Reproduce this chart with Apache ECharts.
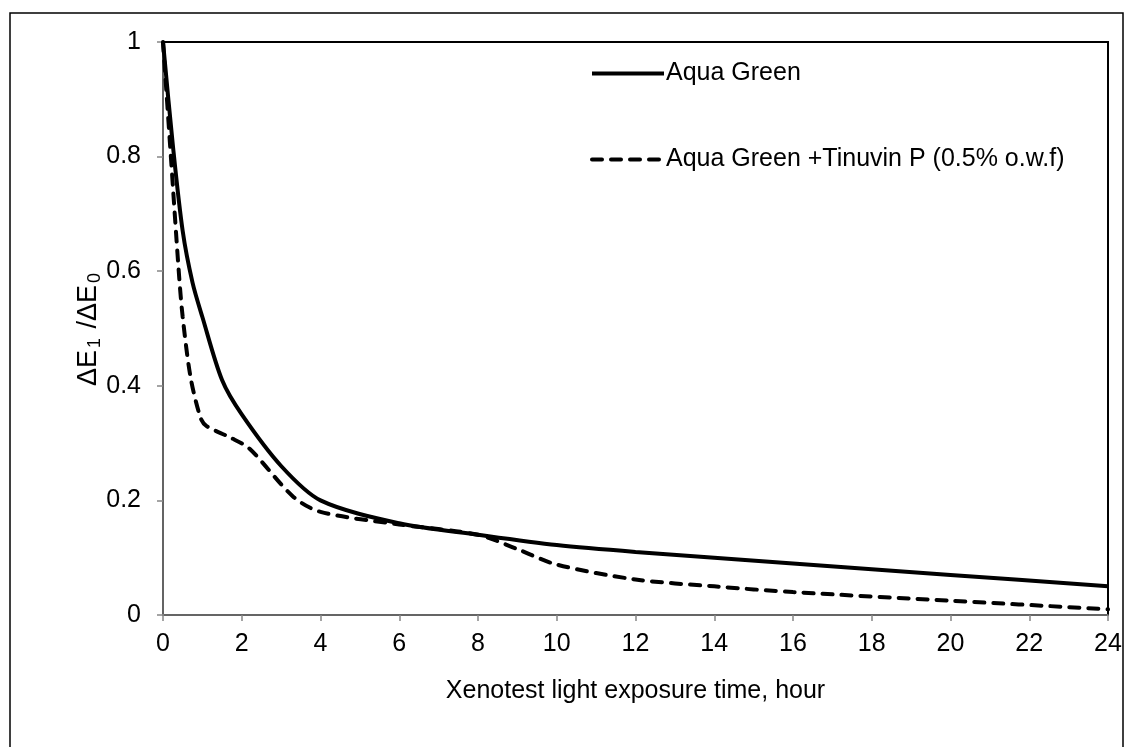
<!DOCTYPE html>
<html>
<head>
<meta charset="utf-8">
<script src="https://cdn.jsdelivr.net/npm/echarts@6/dist/echarts.min.js"></script>
<style>
  html, body { margin: 0; padding: 0; background: #fff; }
  #chart { width: 1133px; height: 747px; }
</style>
</head>
<body>
<div id="chart"></div>
<script>
// Relative colour difference versus exposure time (hours)
const seriesNames = ['Aqua Green', 'Aqua Green +Tinuvin P (0.5% o.w.f)'];

const aquaHours  = [0, 0.25, 0.5, 0.75, 1, 1.5, 2, 3, 4, 6, 8, 10, 12, 16, 20, 24];
const aquaValues = [1.0, 0.82, 0.67, 0.58, 0.52, 0.41, 0.35, 0.26, 0.2, 0.16, 0.14, 0.122, 0.11, 0.09, 0.07, 0.05];

const tinuvinHours  = [0, 0.2, 0.4, 0.5, 0.7, 0.95, 1.1, 1.7, 2.2, 3.3, 4, 6, 8, 9, 10, 12, 14, 16, 20, 24];
const tinuvinValues = [1.0, 0.8, 0.6, 0.52, 0.415, 0.345, 0.33, 0.31, 0.29, 0.207, 0.18, 0.158, 0.14, 0.115, 0.088, 0.062, 0.05, 0.04, 0.025, 0.01];

const xTicks = { min: 0, max: 24, interval: 2 };
const yTicks = { min: 0, max: 1, interval: 0.2 };

const pairs = (xs, ys) => xs.map((x, i) => [x, ys[i]]);

const chart = echarts.init(document.getElementById('chart'), null, { renderer: 'canvas' });
const font = 'Liberation Sans, Arial, sans-serif';
const fs = 25;

chart.setOption({
  animation: false,
  backgroundColor: '#fff',
  textStyle: { fontFamily: font, color: '#000' },
  graphic: [{
    type: 'rect',
    shape: { x: 10, y: 13, width: 1113, height: 740 },
    style: { fill: 'none', stroke: '#000', lineWidth: 1.5 },
    silent: true
  }],
  grid: {
    left: 163, right: 25, top: 42, bottom: 132,
    show: true, borderColor: '#000', borderWidth: 2, backgroundColor: 'transparent'
  },
  legend: {
    left: 590, top: 61, padding: 0, orient: 'vertical', itemGap: 61,
    itemWidth: 72, itemHeight: 14,
    itemStyle: { opacity: 0 },
    lineStyle: { width: 4 },
    textStyle: { fontFamily: font, fontSize: fs, color: '#000', padding: [0, 0, 0, -3] },
    data: seriesNames
  },
  xAxis: {
    type: 'value', min: xTicks.min, max: xTicks.max, interval: xTicks.interval,
    name: 'Xenotest light exposure time, hour',
    nameLocation: 'middle', nameGap: 64,
    nameTextStyle: { fontFamily: font, fontSize: fs, color: '#000' },
    axisLine: { show: true, lineStyle: { color: '#868686', width: 1.5 } },
    axisTick: { show: true, length: 6, lineStyle: { color: '#868686', width: 1.5 } },
    axisLabel: { fontFamily: font, fontSize: fs, color: '#000', margin: 17 },
    splitLine: { show: false }
  },
  yAxis: {
    type: 'value', min: yTicks.min, max: yTicks.max, interval: yTicks.interval,
    name: '{n|ΔE}{s|1}{n| /ΔE}{s|0}',
    nameLocation: 'middle', nameRotate: 90, nameGap: 59,
    nameMoveOverlap: false,
    nameTextStyle: {
      fontFamily: font, fontSize: 27, color: '#000',
      rich: {
        n: { fontFamily: font, fontSize: 27, color: '#000' },
        s: { fontFamily: font, fontSize: 18, color: '#000', padding: [12, 2, 0, 2] }
      }
    },
    axisLine: { show: true, lineStyle: { color: '#868686', width: 1.5 } },
    axisTick: { show: true, length: 6, lineStyle: { color: '#868686', width: 1.5 } },
    axisLabel: { fontFamily: font, fontSize: fs, color: '#000', margin: 22 },
    splitLine: { show: false }
  },
  series: [
    {
      name: seriesNames[0], type: 'line', data: pairs(aquaHours, aquaValues),
      smooth: 0.3, symbol: 'none', z: 3,
      lineStyle: { color: '#000', width: 4, type: 'solid' },
      itemStyle: { color: '#000' }
    },
    {
      name: seriesNames[1], type: 'line', data: pairs(tinuvinHours, tinuvinValues),
      smooth: 0.3, symbol: 'none', z: 2,
      lineStyle: { color: '#000', width: 4, type: [10, 9], cap: 'round' },
      itemStyle: { color: '#000' }
    }
  ]
});
</script>
</body>
</html>
